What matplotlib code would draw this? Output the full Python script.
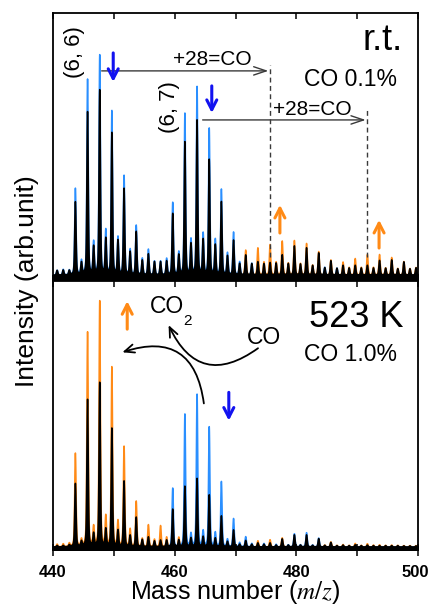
import numpy as np
import matplotlib
matplotlib.use("Agg")
import matplotlib.pyplot as plt
from matplotlib.transforms import ScaledTranslation

plt.rcParams['font.family'] = ['Liberation Sans', 'DejaVu Sans']
plt.rcParams['mathtext.fontset'] = 'stix'

# ---------------- data ----------------
mass = [440.6, 441.6, 442.6, 443.6, 444.6, 445.6, 446.6, 447.6, 448.6, 449.6,
        450.6, 451.6, 452.6, 453.6, 454.6, 455.6, 456.6, 457.6, 458.6, 459.6,
        460.6, 461.6, 462.6, 463.6, 464.6, 465.6, 466.6, 467.6, 468.6, 469.6,
        470.6, 471.6, 472.6, 473.6, 474.6, 475.6, 476.6, 477.6, 478.6, 479.6,
        480.6, 481.6, 482.6, 483.6, 484.6, 485.6, 486.6, 487.6, 488.6, 489.6,
        490.6, 491.6, 492.6, 493.6, 494.6, 495.6, 496.6, 497.6, 498.6, 499.6]

# r.t. panel: reference (coloured) and black spectrum peak heights
rt_ref = [4.1, 4.4, 4.1, 34.6, 7.5, 75.2, 14.3, 84.2, 18.7, 63.4,
          16.2, 39.3, 11.8, 20.8, 8.5, 11.9, 7.5, 7.5, 8.4, 29.3,
          10.7, 62.5, 15.3, 72.4, 17.5, 56.9, 15.4, 34.2, 10.5, 18.3,
          7.3, 11.7, 6.8, 12.5, 7.2, 13.7, 7.2, 15.0, 6.8, 15.2,
          6.6, 14.1, 6.0, 11.1, 5.3, 8.0, 5.0, 7.2, 5.2, 8.5,
          5.2, 10.0, 5.2, 10.0, 5.0, 8.9, 4.8, 7.4, 4.8, 5.2]
rt_black = [4.1, 4.2, 4.0, 29.6, 6.8, 63.1, 12.6, 71.2, 15.6, 55.3,
            15.0, 34.5, 10.9, 18.5, 7.8, 10.2, 7.3, 7.3, 7.5, 25.2,
            9.7, 51.9, 13.7, 60.0, 15.3, 45.3, 13.4, 29.6, 9.4, 15.3,
            6.6, 9.8, 6.6, 7.3, 6.6, 7.0, 6.8, 9.9, 6.6, 13.2,
            6.4, 12.5, 5.9, 10.6, 5.1, 7.7, 4.9, 6.0, 5.0, 6.0,
            5.0, 6.0, 5.0, 7.8, 4.9, 8.0, 4.7, 7.3, 4.7, 5.1]
rt_color = list("bbbbbbbbbbbbbbbbbbbbbbbbbbbbbbbobooooooooooobobooooooooooooo")

# 523 K panel
ht_ref = [2.3, 2.4, 2.6, 36.0, 3.8, 81.0, 8.4, 92.5, 12.3, 68.0,
          10.7, 38.5, 7.8, 18.2, 4.4, 9.5, 4.1, 9.2, 5.0, 23.1,
          5.0, 50.6, 6.0, 57.9, 7.0, 45.8, 6.5, 25.5, 4.1, 11.8,
          2.9, 5.1, 2.6, 3.6, 2.6, 4.0, 2.3, 4.7, 2.1, 6.2,
          2.1, 6.6, 2.0, 4.6, 2.0, 3.2, 1.9, 2.2, 1.9, 2.6,
          1.9, 2.5, 2.0, 2.1, 1.9, 2.0, 1.9, 1.8, 1.8, 1.8]
ht_black = [1.8, 1.8, 2.0, 24.8, 3.2, 56.0, 6.0, 62.3, 7.7, 45.3,
            7.3, 25.7, 5.5, 12.3, 4.0, 5.0, 3.5, 3.8, 3.8, 15.3,
            3.8, 23.8, 4.5, 26.7, 5.0, 20.6, 4.5, 12.8, 3.3, 7.6,
            2.3, 3.7, 2.3, 2.8, 2.3, 2.8, 2.0, 4.3, 2.0, 5.8,
            2.0, 5.8, 1.9, 4.4, 1.9, 3.0, 1.8, 2.0, 1.8, 2.1,
            1.8, 2.0, 1.8, 1.8, 1.8, 1.8, 1.8, 1.7, 1.7, 1.7]
ht_color = list("ooooooooooooooooooobobbbbbbbbbbbbobobobbbbbboooooooooooooooo")

xticks_major = [440, 460, 480, 500]
xticks_minor = [450, 470, 490]

BLUE = "#2A8FFF"
ORANGE = "#FF8A16"
ARROW_BLUE = "#1212F0"
ARROW_OR = "#FF8A16"
GRAY = "#3a3a3a"

# ---------------- figure ----------------
fig = plt.figure(figsize=(4.31, 6.06), dpi=100)
L, R = 53 / 431, 418 / 431
ax1 = fig.add_axes([L, 1 - 281 / 606, R - L, (281 - 13) / 606])
ax2 = fig.add_axes([L, 1 - 550 / 606, R - L, (550 - 281) / 606])

xg = np.linspace(439.0, 501.0, 9000)


def spectrum(heights, base, keep):
    y = np.full_like(xg, base)
    for m, h, k in zip(mass, heights, keep):
        if not k:
            continue
        d = xg - m
        shape = 0.7 * np.exp(-0.5 * (d / 0.11) ** 2) + 0.3 / (1 + (d / 0.15) ** 2)
        y += (h - base) * shape
    return y


def draw_panel(ax, ref, blk, cols, base):
    n = len(mass)
    yo = spectrum(ref, base, [c == 'o' for c in cols])
    yb = spectrum(ref, base, [c == 'b' for c in cols])
    yk = spectrum(blk, base, [True] * n)
    ax.fill_between(xg, -5, yo, color=ORANGE, lw=1.1, edgecolor=ORANGE)
    ax.fill_between(xg, -5, yb, color=BLUE, lw=1.1, edgecolor=BLUE)
    ax.fill_between(xg, -5, yk, color='black', lw=1.1, edgecolor='black')
    ax.set_xlim(440, 500)
    ax.set_ylim(0, 100)
    ax.set_yticks([])
    ax.set_xticks(xticks_major)
    ax.set_xticks(xticks_minor, minor=True)
    for s in ax.spines.values():
        s.set_linewidth(1.3)


draw_panel(ax1, rt_ref, rt_black, rt_color, 2.3)
draw_panel(ax2, ht_ref, ht_black, ht_color, 1.3)

ax1.tick_params(axis='x', which='both', top=True, bottom=True, direction='in',
                length=4, width=1.1, labelbottom=False)
ax2.tick_params(axis='x', which='both', top=True, bottom=True, direction='inout',
                length=9, width=1.1, pad=6)
labels = ax2.get_xticklabels()
for lab in labels:
    lab.set_fontweight('bold')
    lab.set_fontsize(12)
labels[-1].set_transform(labels[-1].get_transform() +
                         ScaledTranslation(-2 / 72, 0, fig.dpi_scale_trans))

ax2.set_xlabel("Mass number ($m/z$)", fontsize=18, labelpad=-1)
fig.text(27 / 431, 1 - 281 / 606, "Intensity (arb.unit)", rotation=90,
         fontsize=19, ha='center', va='center')

# ---------------- top panel annotations ----------------
ax1.text(0.959, 0.862, "r.t.", transform=ax1.transAxes, fontsize=26,
         ha='right', va='baseline')
ax1.text(0.942, 0.728, "CO 0.1%", transform=ax1.transAxes, fontsize=16.5,
         ha='right', va='baseline')
ax1.text(0.329, 0.806, "+28=CO", transform=ax1.transAxes, fontsize=15,
         ha='left', va='baseline')
ax1.text(0.603, 0.619, "+28=CO", transform=ax1.transAxes, fontsize=15,
         ha='left', va='baseline')
ax1.text(0.058, 0.855, "(6, 6)", transform=ax1.transAxes, fontsize=16,
         rotation=90, ha='center', va='center')
ax1.text(0.318, 0.649, "(6, 7)", transform=ax1.transAxes, fontsize=16,
         rotation=90, ha='center', va='center')

gray_arrow = dict(arrowstyle='->,head_length=0.9,head_width=0.3', color=GRAY,
                  lw=1.0, shrinkA=0, shrinkB=0)
ax1.annotate('', xy=(475.4, 78.4), xytext=(448.0, 78.4), arrowprops=gray_arrow)
ax1.annotate('', xy=(491.4, 60.1), xytext=(464.6, 60.1), arrowprops=gray_arrow)
ax1.plot([475.6, 475.6], [9.0, 80.6], ls=(0, (3.5, 2.5)), color=GRAY, lw=1.0)
ax1.plot([491.6, 491.6], [9.0, 63.8], ls=(0, (3.5, 2.5)), color=GRAY, lw=1.0)

blue_arrow = dict(arrowstyle='->,head_length=0.7,head_width=0.36', color=ARROW_BLUE,
                  lw=2.2, shrinkA=0, shrinkB=0)
or_arrow = dict(arrowstyle='->,head_length=0.7,head_width=0.36', color=ARROW_OR,
                lw=2.2, shrinkA=0, shrinkB=0)
ax1.annotate('', xy=(449.9, 74.3), xytext=(449.9, 85.1), arrowprops=blue_arrow)
ax1.annotate('', xy=(466.1, 62.7), xytext=(466.1, 72.8), arrowprops=blue_arrow)
ax1.annotate('', xy=(477.3, 28.4), xytext=(477.3, 17.9), arrowprops=or_arrow)
ax1.annotate('', xy=(493.6, 22.8), xytext=(493.6, 12.3), arrowprops=or_arrow)

# ---------------- bottom panel annotations ----------------
ax2.text(0.959, 0.828, "523 K", transform=ax2.transAxes, fontsize=26,
         ha='right', va='baseline')
ax2.text(0.942, 0.701, "CO 1.0%", transform=ax2.transAxes, fontsize=16.5,
         ha='right', va='baseline')
ax2.text(0.266, 0.881, "CO", transform=ax2.transAxes, fontsize=16.5,
         ha='left', va='baseline')
ax2.text(0.357, 0.835, "2", transform=ax2.transAxes, fontsize=11,
         ha='left', va='baseline')
ax2.text(0.532, 0.765, "CO", transform=ax2.transAxes, fontsize=16.5,
         ha='left', va='baseline')

ax2.annotate('', xy=(452.2, 92.5), xytext=(452.2, 82.1), arrowprops=or_arrow)
ax2.annotate('', xy=(468.9, 48.1), xytext=(468.9, 58.6), arrowprops=blue_arrow)

curve_arrow = dict(arrowstyle='->,head_length=0.7,head_width=0.3', color='black',
                   lw=1.3, shrinkA=0, shrinkB=0)
ax2.annotate('', xy=(459.0, 83.6), xytext=(473.7, 75.0),
             arrowprops=dict(curve_arrow, connectionstyle='arc3,rad=-0.6'))
ax2.annotate('', xy=(451.4, 73.5), xytext=(464.8, 54.5),
             arrowprops=dict(curve_arrow, connectionstyle='arc3,rad=0.6'))

fig.savefig("out.png", dpi=100)
